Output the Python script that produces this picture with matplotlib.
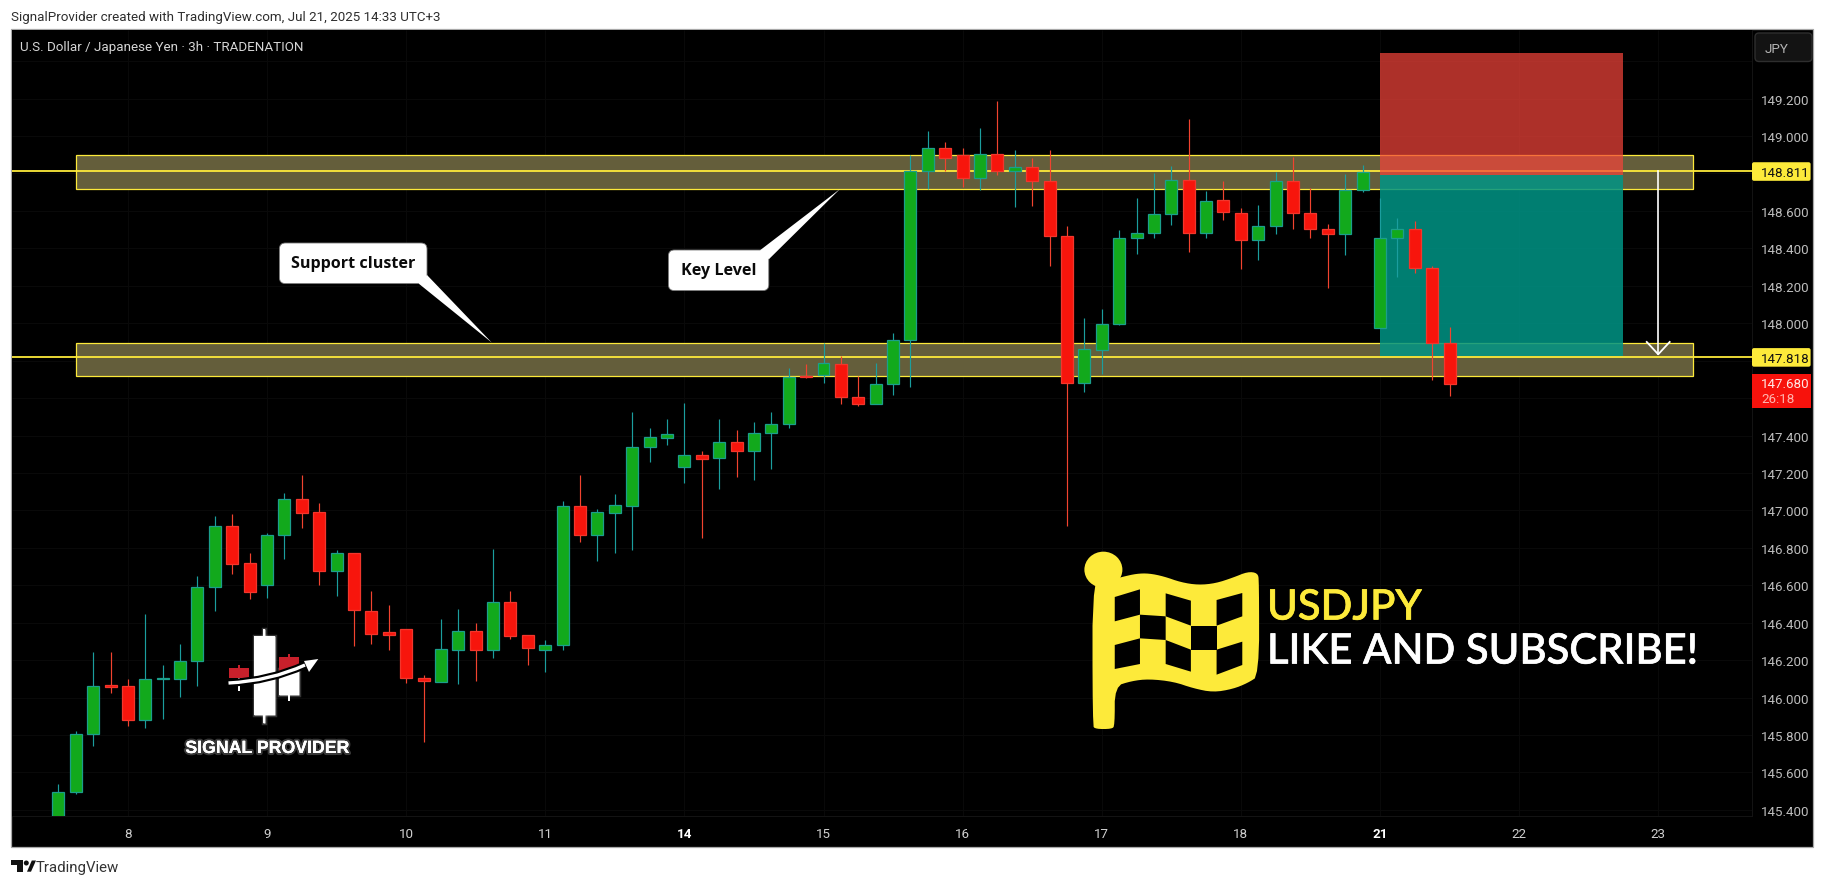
import numpy as np
import matplotlib
matplotlib.use("Agg")
import matplotlib.pyplot as plt
from matplotlib.patches import Rectangle, FancyBboxPatch, Polygon, Ellipse, Circle
from matplotlib.patches import PathPatch
from matplotlib.path import Path
import matplotlib.patheffects as pe

W, H = 1825, 887

# ---------- data (prices) ----------
first_bar = -4
opens = [145.35,145.496,145.803,146.066,146.064,145.883,146.100,146.102,146.196,146.592,146.919,146.721,146.602,146.869,
 147.063,146.989,146.677,146.770,146.465,146.348,146.364,146.107,146.084,146.255,146.358,146.255,146.513,146.332,
 146.255,146.282,147.021,146.869,146.987,147.024,147.339,147.387,147.232,147.298,147.280,147.367,147.317,147.414,
 147.462,147.716,147.723,147.784,147.608,147.568,147.675,147.910,148.813,148.938,148.897,148.776,148.906,148.813,
 148.836,148.762,148.468,147.681,147.857,147.996,148.457,148.482,148.583,148.767,148.482,148.660,148.590,148.446,
 148.521,148.761,148.590,148.505,148.477,148.714,147.976,148.457,148.505,148.297,147.894]
closes = [145.498,145.804,146.064,146.057,145.881,146.097,146.104,146.198,146.593,146.919,146.714,146.565,146.871,147.063,
 146.987,146.677,146.770,146.469,146.340,146.335,146.105,146.089,146.257,146.358,146.255,146.513,146.330,146.266,
 146.283,147.021,146.869,146.989,147.028,147.341,147.394,147.410,147.298,147.276,147.367,147.317,147.415,147.463,
 147.715,147.711,147.789,147.606,147.568,147.677,147.912,148.815,148.938,148.883,148.776,148.906,148.813,148.836,
 148.760,148.466,147.681,147.864,147.998,148.457,148.484,148.585,148.767,148.482,148.655,148.596,148.446,148.521,
 148.761,148.590,148.505,148.477,148.714,148.810,148.457,148.505,148.297,147.896,147.675]
highs = [145.536,145.819,146.241,146.246,146.098,146.449,146.173,146.289,146.652,146.969,146.980,146.771,146.882,147.095,
 147.188,147.038,146.787,146.772,146.568,146.494,146.369,146.123,146.419,146.472,146.397,146.793,146.568,146.337,
 146.307,147.049,147.188,147.006,147.087,147.528,147.439,147.487,147.576,147.316,147.490,147.428,147.471,147.524,
 147.763,147.784,147.893,147.823,147.718,147.789,147.950,148.897,149.025,148.966,148.938,149.041,149.185,148.927,
 148.884,148.927,148.518,148.026,148.074,148.500,148.667,148.804,148.838,149.089,148.705,148.758,148.617,148.630,
 148.810,148.886,148.724,148.529,148.796,148.847,148.671,148.560,148.544,148.307,147.978]
lows = [145.33,145.484,145.742,146.027,145.849,145.838,145.885,146.004,146.063,146.463,146.661,146.527,146.533,146.741,
 146.905,146.602,146.543,146.276,146.285,146.255,146.079,145.764,146.082,146.072,146.089,146.212,146.312,146.175,
 146.137,146.255,146.832,146.729,146.773,146.790,147.259,147.349,147.146,146.853,147.114,147.179,147.163,147.221,
 147.440,147.706,147.679,147.567,147.558,147.568,147.615,147.658,148.715,148.811,148.726,148.712,148.792,148.621,
 148.626,148.306,146.917,147.631,147.727,147.989,148.368,148.453,148.523,148.379,148.453,148.551,148.290,148.338,
 148.477,148.503,148.454,148.188,148.365,148.701,147.976,148.247,148.268,147.697,147.611]

level_prices = [148.811, 147.818]
level_labels = ["148.811", "147.818"]
zones = [(148.719, 148.897), (147.718, 147.897)]
zone_bars = (-3.0, 90.0)
rr_bars = (72.0, 86.0)
stop_price, entry_price, target_price = 149.442, 148.794, 147.823
move_bar, move_top, move_bottom, head_price, head_half = 88.0, 148.811, 147.834, 147.900, 0.66
last_price, last_label, countdown = 147.680, "147.680", "26:18"
ytick_values = [149.2,149.0,148.6,148.4,148.2,148.0,147.4,147.2,147.0,146.8,146.6,146.4,146.2,146.0,145.8,145.6,145.4]
grid_y = [149.4,149.2,149.0,148.8,148.6,148.4,148.2,148.0,147.8,147.6,147.4,147.2,147.0,146.8,146.6,146.4,146.2,146.0,145.8,145.6,145.4]
xtick_bars = [0,8,16,24,32,40,48,56,64,72,80,88]
xtick_labels = ["8","9","10","11","14","15","16","17","18","21","22","23"]
bold_xticks = ["14","21"]

o, c = np.array(opens), np.array(closes)
bars = np.arange(first_bar, first_bar + len(o))
tops, bottoms, ups = np.maximum(o, c), np.minimum(o, c), c > o
hi, lo = np.array(highs), np.array(lows)

# ---------- colours ----------
GREEN, GREEN_EDGE, GREEN_WICK = "#12a91c", "#1b9e8c", "#1b9e9e"
RED, RED_EDGE, RED_WICK = "#f7150c", "#f2362c", "#f2432f"
YEL, ZONE = "#fdea3a", "#645e3b"
TICK = "#bdbdbd"
GRID = "#0a0a0a"

fig = plt.figure(figsize=(W/100, H/100), dpi=100, facecolor="white")
# frame (chart + axes panels)
fig.add_artist(Rectangle((11/W, 1-848/H), 1802/W, 818/H, transform=fig.transFigure, fc="black", ec="#a8a8a8", lw=0.9, zorder=-1))

XL, XR, YB, YT = -6.665, 93.393, 145.3675, 149.5665
ax = fig.add_axes([12/W, 1-817/H, 1740/W, 786/H], facecolor="black")
ax.set_xlim(XL, XR)
ax.set_ylim(YB, YT)
for s in ax.spines.values():
    s.set_visible(False)
ax.spines["bottom"].set_visible(True); ax.spines["bottom"].set_color("#141414"); ax.spines["bottom"].set_linewidth(0.7)
ax.spines["right"].set_visible(True); ax.spines["right"].set_color("#141414"); ax.spines["right"].set_linewidth(0.7)

ax.yaxis.tick_right()
ax.set_yticks(ytick_values)
ax.set_yticklabels([f"{v:.3f}" for v in ytick_values], fontsize=9.6, color=TICK, family="Roboto")
ax.set_xticks(xtick_bars)
ax.set_xticklabels(xtick_labels, fontsize=9.6, color="#d0d0d0", family="Roboto")
for lab in ax.get_xticklabels():
    if lab.get_text() in bold_xticks:
        lab.set_fontweight("bold"); lab.set_color("white")
ax.tick_params(axis="y", length=0, pad=6.5)
ax.tick_params(axis="x", length=0, pad=8.2)
ax.vlines(xtick_bars, YB, YT, color=GRID, lw=0.7, zorder=0)
ax.hlines(grid_y, XL, XR, color=GRID, lw=0.7, zorder=0)

# zones
for zlo, zhi in zones:
    ax.add_patch(Rectangle((zone_bars[0], zlo), zone_bars[1]-zone_bars[0], zhi-zlo, fc=ZONE, ec=YEL, lw=0.9, zorder=1))
for p in level_prices:
    ax.axhline(p, color=YEL, lw=1.3, zorder=2)

# short position box
ax.add_patch(Rectangle((rr_bars[0], entry_price), rr_bars[1]-rr_bars[0], stop_price-entry_price,
                       fc=(245/255, 68/255, 58/255, 0.71), ec="none", zorder=3))
ax.add_patch(Rectangle((rr_bars[0], target_price), rr_bars[1]-rr_bars[0], entry_price-target_price,
                       fc=(0, 149/255, 134/255, 0.85), ec="none", zorder=3))

# candles
ax.vlines(bars[ups], lo[ups], hi[ups], color=GREEN_WICK, lw=0.85, zorder=4)
ax.vlines(bars[~ups], lo[~ups], hi[~ups], color=RED_WICK, lw=0.85, zorder=4)
ax.bar(bars[ups], (tops-bottoms)[ups], bottom=bottoms[ups], width=0.69, color=GREEN, edgecolor=GREEN_EDGE, lw=0.9, zorder=5)
ax.bar(bars[~ups], (tops-bottoms)[~ups], bottom=bottoms[~ups], width=0.69, color=RED, edgecolor=RED_EDGE, lw=0.9, zorder=5)

# move arrow
ax.plot([move_bar, move_bar], [move_top, move_bottom], color="white", lw=1.2, zorder=6)
ax.plot([move_bar-head_half, move_bar, move_bar+head_half], [head_price, move_bottom, head_price], color="white", lw=1.3, zorder=6)

# ---------- overlay in image pixels ----------
ov = fig.add_axes([0, 0, 1, 1], facecolor="none")
ov.set_xlim(0, W); ov.set_ylim(H, 0); ov.axis("off")
def price_y(p):
    return H - ax.transData.transform((0, p))[1]

# header / footer text
ov.text(11.5, 17, "SignalProvider created with TradingView.com, Jul 21, 2025 14:33 UTC+3", fontsize=9.65, family="Roboto", color="#2e2e2e", va="center")
ov.text(20, 47.5, "U.S. Dollar / Japanese Yen · 3h · TRADENATION", fontsize=9.65, family="Roboto", color="#d6d6d6", va="center")
ov.text(35.5, 868, "TradingView", fontsize=10.8, family="Roboto", color="#333333", va="center")
ov.add_patch(Polygon([(11,861.5),(23,861.5),(23,872.7),(17.5,872.7),(17.5,866.5),(11,866.5)], fc="#111111", ec="none"))
ov.add_patch(Circle((26.3,864), 2.5, fc="#111111", ec="none"))
ov.add_patch(Polygon([(27,872.7),(31.8,861.5),(36,861.5),(31,872.7)], fc="#111111", ec="none"))

# JPY button
ov.add_patch(FancyBboxPatch((1755, 34), 57, 28.5, boxstyle="round,pad=0,rounding_size=4", fc="#131313", ec="#2e2e2e", lw=1))
ov.text(1776.5, 49.5, "JPY", fontsize=9.6, family="Roboto", color="#b4b4b4", ha="center", va="center")

# price labels
for p, lab in zip(level_prices, level_labels):
    y = price_y(p)
    ov.add_patch(FancyBboxPatch((1752, y-9.2), 58.6, 18.6, boxstyle="round,pad=0,rounding_size=2", fc=YEL, ec="none"))
    ov.text(1761, y+0.8, lab, fontsize=9.6, family="Roboto", color="#111111", va="center")
ly = price_y(last_price)
ov.add_patch(Rectangle((1752, ly-9.5), 58.6, 33.9, fc="#f7120c", ec="none"))
ov.text(1761, ly+0.8, last_label, fontsize=9.6, family="Roboto", color="#ffe9e6", va="center")
ov.text(1761, ly+15.8, countdown, fontsize=9.6, family="Roboto", color="#ffb5ae", va="center")

# callouts
def callout(box, tail, text, tc):
    x0, y0, x1, y1 = box
    ov.add_patch(FancyBboxPatch((x0, y0), x1-x0, y1-y0, boxstyle="round,pad=0,rounding_size=6", fc="white", ec="#777777", lw=0.6, zorder=5))
    ov.add_patch(Polygon(tail, fc="white", ec="none", zorder=6))
    ov.text(tc[0], tc[1], text, fontsize=11.6, family="Open Sans", fontweight="bold", color="#0b0b0b", ha="center", va="center", zorder=7)
callout((279.4, 244, 427, 284.6), [(418.7,284.6),(427,276),(491.8,343.6)], "Support cluster", (353, 264.5))
callout((668.4, 251, 768.8, 291.6), [(760,251.3),(768.8,260.3),(840,190)], "Key Level", (718.6, 271.5))

# flag logo
fx = lambda z: 1050 + z/2.023
fy = lambda z: 530 + z/3
def smooth(pts, n=2):
    p = np.array(pts, float)
    for _ in range(n):
        a, b = p, np.roll(p, -1, axis=0)
        p = np.column_stack([0.75*a + 0.25*b, 0.25*a + 0.75*b]).reshape(-1, 2)
    return p
outline = [(fx(86),fy(110)),(fx(131),fy(110)),(fx(131),fy(150)),(fx(148),fy(143)),(fx(175),fy(134)),(fx(200),fy(133)),(fx(230),fy(142)),
           (fx(265),fy(160)),(fx(300),fy(168)),(fx(335),fy(163)),(fx(370),fy(146)),(fx(400),fy(128)),(fx(420),fy(132)),(fx(423),fy(155)),
           (fx(423),fy(440)),(fx(400),fy(462)),(fx(370),fy(480)),(fx(330),fy(490)),(fx(290),fy(478)),(fx(250),fy(458)),
           (fx(200),fy(450)),(fx(165),fy(456)),(fx(131),fy(472)),(fx(131),fy(590)),(fx(125),fy(600)),(fx(92),fy(600)),(fx(86),fy(590))]
ov.add_patch(Polygon(smooth(outline), fc=YEL, ec="none"))
ov.add_patch(Ellipse((fx(108), fy(122)), 38, 36, fc=YEL, ec="none"))
cols = [131,182,234,285,337,389]
row_lines = [[204,181,193,215,213,192],[277,257,262,290,290,262],[348,328,333,362,362,338],[420,405,405,428,437,408]]
for r in range(3):
    for k in range(5):
        if (r + k) % 2 == 0:
            ov.add_patch(Polygon([(fx(cols[k]),fy(row_lines[r][k])),(fx(cols[k+1]),fy(row_lines[r][k+1])),
                                  (fx(cols[k+1]),fy(row_lines[r+1][k+1])),(fx(cols[k]),fy(row_lines[r+1][k]))], fc="black", ec="none"))
t1 = ov.text(1267, 620.5, "USDJPY", fontsize=30.1, family="Lato", fontweight="medium", color=YEL, va="baseline")
t1.set_path_effects([pe.withStroke(linewidth=0.5, foreground=YEL)])
t2 = ov.text(1267, 664.5, "LIKE AND SUBSCRIBE!", fontsize=30.1, family="Lato", fontweight="medium", color="white", va="baseline")
t2.set_path_effects([pe.withStroke(linewidth=0.5, foreground="white")])

# signal provider logo
def rect(x0, y0, x1, y1, col, g=True):
    r = Rectangle((x0, y0), x1-x0, y1-y0, fc=col, ec="none")
    if g: r.set_path_effects([pe.withStroke(linewidth=2.5, foreground=(1,1,1,0.2)), pe.Normal()])
    ov.add_patch(r)
rect(262.9, 630, 265.3, 724, "white")
rect(253.9, 636.7, 274.8, 716, "white")
rect(288, 655, 290.2, 702, "white", False)
rect(278.8, 670, 299.3, 696, "white")
rect(288, 654.5, 290.2, 660, "#c8202b", False)
rect(278.8, 658.3, 299.3, 672, "#c8202b", False)
rect(238.2, 665.7, 240.3, 692, "white", False)
rect(238.2, 665.5, 240.3, 670, "#c8202b", False)
rect(229, 669.3, 249.5, 679, "#c8202b", False)
curve = Path([(228.5,684),(270,682),(305,666)], [Path.MOVETO, Path.CURVE3, Path.CURVE3])
ov.add_patch(PathPatch(curve, fc="none", ec="black", lw=5.5, capstyle="butt"))
ov.add_patch(PathPatch(curve, fc="none", ec="white", lw=2.4, capstyle="butt"))
ov.add_patch(Polygon([(318.3,660),(304,662),(309,673)], fc="white", ec="none"))
t = ov.text(267.3, 749.5, "SIGNAL PROVIDER", fontsize=12.75, family="Liberation Sans", fontweight="bold", color="white", ha="center", va="center")
t.set_path_effects([pe.withStroke(linewidth=3.0, foreground=(1,1,1,0.22)), pe.Normal()])

fig.savefig("out.png", dpi=100)
